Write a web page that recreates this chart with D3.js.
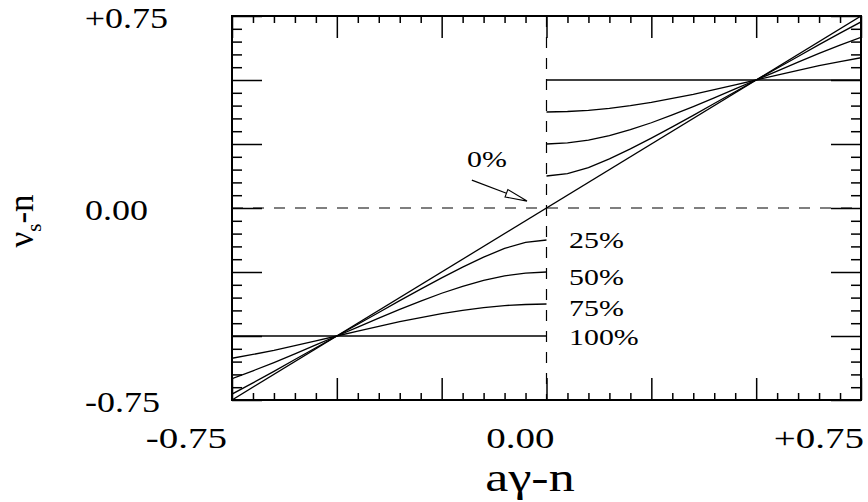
<!DOCTYPE html>
<html>
<head>
<meta charset="utf-8">
<script src="https://cdn.jsdelivr.net/npm/d3@7/dist/d3.min.js"></script>
<style>
  html, body { margin: 0; padding: 0; background: #fff; }
  svg { display: block; }
</style>
</head>
<body>
<svg id="chart" width="868" height="502"></svg>
<script>
// ---------------- data ----------------
const xNeg = [-0.75,-0.70,-0.65,-0.60,-0.55,-0.50,-0.45,-0.40,-0.35,-0.30,-0.25,-0.20,-0.15,-0.10,-0.05,0.00];
const xPos = [0.00,0.05,0.10,0.15,0.20,0.25,0.30,0.35,0.40,0.45,0.50,0.55,0.60,0.65,0.70,0.75];

const neg25 = [-0.727,-0.683,-0.638,-0.592,-0.546,-0.500,-0.454,-0.408,-0.362,-0.317,-0.273,-0.231,-0.192,-0.158,-0.134,-0.125];
const pos25 = [0.125,0.134,0.158,0.192,0.231,0.273,0.317,0.362,0.408,0.454,0.500,0.546,0.592,0.638,0.683,0.727];
const neg50 = [-0.667,-0.636,-0.604,-0.570,-0.535,-0.500,-0.465,-0.430,-0.396,-0.364,-0.333,-0.306,-0.283,-0.265,-0.254,-0.250];
const pos50 = [0.250,0.254,0.265,0.283,0.306,0.333,0.364,0.396,0.430,0.465,0.500,0.535,0.570,0.604,0.636,0.667];
const neg75 = [-0.587,-0.572,-0.556,-0.538,-0.519,-0.500,-0.481,-0.462,-0.444,-0.428,-0.413,-0.400,-0.389,-0.381,-0.377,-0.375];
const pos75 = [0.375,0.377,0.381,0.389,0.400,0.413,0.428,0.444,0.462,0.481,0.500,0.519,0.538,0.556,0.572,0.587];

const x0pct = [-0.75, 0.75];
const y0pct = [-0.75, 0.75];
const x100neg = [-0.75, 0.00];
const y100neg = [-0.50, -0.50];
const x100pos = [0.00, 0.75];
const y100pos = [0.50, 0.50];

const majorTicks = [-0.75,-0.50,-0.25,0.00,0.25,0.50,0.75];
const minorTicks = [-0.70,-0.65,-0.60,-0.55,-0.45,-0.40,-0.35,-0.30,-0.20,-0.15,-0.10,-0.05,
                    0.05,0.10,0.15,0.20,0.30,0.35,0.40,0.45,0.55,0.60,0.65,0.70];
const xTickLabels = ["-0.75", "0.00", "+0.75"];
const xTickLabelValues = [-0.75, 0.00, 0.75];
const yTickLabels = ["-0.75", "0.00", "+0.75"];
const yTickLabelValues = [-0.75, 0.00, 0.75];
const seriesLabels = ["25%", "50%", "75%", "100%"];
const xAxisTitle = "aγ-n";

// ---------------- layout ----------------
const FONT = "'Liberation Serif', 'Times New Roman', Times, serif";
const svg = d3.select("#chart");
const L = 232, R = 861, T = 16, B = 400;
const x = d3.scaleLinear().domain([-0.75, 0.75]).range([L, R]);
const y = d3.scaleLinear().domain([-0.75, 0.75]).range([B, T]);

svg.append("defs").append("clipPath").attr("id", "clip")
  .append("rect").attr("x", L).attr("y", T).attr("width", R - L).attr("height", B - T);

const plot = svg.append("g").attr("clip-path", "url(#clip)");

// dashed reference lines
plot.append("line")
  .attr("x1", x(-0.75)).attr("x2", x(0.75)).attr("y1", y(0)).attr("y2", y(0))
  .attr("stroke", "#000").attr("stroke-width", 1.2).attr("stroke-dasharray", "11,10");
plot.append("line")
  .attr("x1", x(0)).attr("x2", x(0)).attr("y1", y(0.75)).attr("y2", y(-0.75))
  .attr("stroke", "#000").attr("stroke-width", 1.2).attr("stroke-dasharray", "11,10");

const line = d3.line().x(d => x(d[0])).y(d => y(d[1]));
function drawSeries(xs, ys) {
  plot.append("path")
    .datum(d3.zip(xs, ys))
    .attr("d", line)
    .attr("fill", "none")
    .attr("stroke", "#000")
    .attr("stroke-width", 1.3);
}
drawSeries(x0pct, y0pct);
drawSeries(xNeg, neg25); drawSeries(xPos, pos25);
drawSeries(xNeg, neg50); drawSeries(xPos, pos50);
drawSeries(xNeg, neg75); drawSeries(xPos, pos75);
drawSeries(x100neg, y100neg); drawSeries(x100pos, y100pos);

// ---------------- axes (inward ticks on all sides) ----------------
function axis(gen, tx, ty, vals, size) {
  const g = svg.append("g").attr("transform", `translate(${tx},${ty})`)
    .call(gen.tickValues(vals).tickSizeInner(-size).tickSizeOuter(0).tickFormat(""));
  g.select(".domain").remove();
  g.selectAll(".tick line").attr("stroke", "#000").attr("stroke-width", 1.5);
}
axis(d3.axisBottom(x), 0, B, minorTicks, 7);
axis(d3.axisBottom(x), 0, B, majorTicks, 22);
axis(d3.axisTop(x), 0, T, minorTicks, 7);
axis(d3.axisTop(x), 0, T, majorTicks, 22);
axis(d3.axisLeft(y), L, 0, minorTicks, 10);
axis(d3.axisLeft(y), L, 0, majorTicks, 30);
axis(d3.axisRight(y), R, 0, minorTicks, 10);
axis(d3.axisRight(y), R, 0, majorTicks, 30);

svg.append("rect")
  .attr("x", L).attr("y", T).attr("width", R - L).attr("height", B - T)
  .attr("fill", "none").attr("stroke", "#000").attr("stroke-width", 2);

// ---------------- text ----------------
function stext(px, py, str, size, anchor, sx) {
  return svg.append("text")
    .attr("transform", `translate(${px},${py}) scale(${sx},1)`)
    .attr("text-anchor", anchor)
    .attr("font-family", FONT)
    .attr("fill", "#000")
    .attr("font-size", size)
    .text(str);
}

const xLabelDx = [-5, 8, 3];
xTickLabels.forEach((t, i) => stext(x(xTickLabelValues[i]) + xLabelDx[i], 448, t, 30, "end", 1.3));
const yLabelDx = [-72, -84, -64];
yTickLabels.forEach((t, i) => stext(L + yLabelDx[i], y(yTickLabelValues[i]) + 11.5, t, 30, "end", 1.2));

// series labels
const seriesLabelY = [248, 285, 316, 345];
seriesLabels.forEach((t, i) => stext(569, seriesLabelY[i], t, 23, "start", 1.3));

// 0% label + arrow
stext(467, 167, "0%", 23, "start", 1.3);
const tail = [x(-0.178), y(0.109)];
const tip = [x(-0.0465), y(0.027)];
const dx = tip[0] - tail[0], dy = tip[1] - tail[1];
const len = Math.hypot(dx, dy);
const ux = dx / len, uy = dy / len;
const headL = 22, headW = 4;
const base = [tip[0] - headL * ux, tip[1] - headL * uy];
svg.append("line")
  .attr("x1", tail[0]).attr("y1", tail[1]).attr("x2", base[0]).attr("y2", base[1])
  .attr("stroke", "#000").attr("stroke-width", 1.2);
svg.append("polygon")
  .attr("points", [
    [base[0] - uy * headW, base[1] + ux * headW],
    [tip[0], tip[1]],
    [base[0] + uy * headW, base[1] - ux * headW]
  ].map(p => p.join(",")).join(" "))
  .attr("fill", "#fff").attr("stroke", "#000").attr("stroke-width", 1.1);

// axis titles
stext(530, 491, xAxisTitle, 40, "middle", 1.3);

const yt = svg.append("text")
  .attr("transform", "translate(33,221) rotate(-90)")
  .attr("text-anchor", "middle")
  .attr("font-family", FONT)
  .attr("fill", "#000")
  .attr("font-size", 35);
yt.append("tspan").text("ν");
yt.append("tspan").attr("dy", 8).attr("font-size", 21).text("s");
yt.append("tspan").attr("dy", -8).text("-n");
</script>
</body>
</html>
